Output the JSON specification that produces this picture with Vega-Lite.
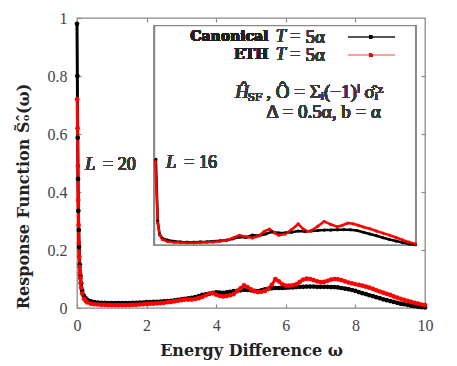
{
"$schema": "https://vega.github.io/schema/vega-lite/v6.json",
"autosize": "none",
"width": 348,
"height": 290,
"padding": {"left": 77, "top": 18, "right": 32, "bottom": 58},
"background": "white",
"config": {
  "view": {"stroke": "#8a8a8a", "strokeWidth": 1.3},
  "text": {"fontWeight": "normal"},
  "axis": {"domain": false, "grid": false, "labelFlush": false, "tickColor": "#8a8a8a", "tickSize": -4, "tickWidth": 1.2, "labelFont": "Liberation Serif", "labelFontWeight": "normal", "labelFontSize": 16, "labelColor": "#444", "titleFont": "DejaVu Serif", "titleFontWeight": "bold", "titleFontSize": 16, "titleColor": "#222"}
},
"datasets": {
"main": [
{"series":"Canonical","omega":0,"S":0.98},{"series":"Canonical","omega":0.01,"S":0.80},{"series":"Canonical","omega":0.02,"S":0.587},{"series":"Canonical","omega":0.03,"S":0.445},{"series":"Canonical","omega":0.04,"S":0.335},{"series":"Canonical","omega":0.05,"S":0.269},{"series":"Canonical","omega":0.06,"S":0.21},{"series":"Canonical","omega":0.08,"S":0.15},{"series":"Canonical","omega":0.1,"S":0.11},{"series":"Canonical","omega":0.12,"S":0.085},{"series":"Canonical","omega":0.15,"S":0.06},{"series":"Canonical","omega":0.2,"S":0.042},{"series":"Canonical","omega":0.25,"S":0.033},{"series":"Canonical","omega":0.3,"S":0.028},{"series":"Canonical","omega":0.4,"S":0.023},{"series":"Canonical","omega":0.5,"S":0.020},{"series":"Canonical","omega":0.6,"S":0.019},{"series":"Canonical","omega":0.7,"S":0.018},{"series":"Canonical","omega":0.8,"S":0.018},{"series":"Canonical","omega":0.9,"S":0.017},{"series":"Canonical","omega":1.0,"S":0.017},{"series":"Canonical","omega":1.1,"S":0.017},{"series":"Canonical","omega":1.2,"S":0.017},{"series":"Canonical","omega":1.3,"S":0.017},{"series":"Canonical","omega":1.4,"S":0.017},{"series":"Canonical","omega":1.5,"S":0.017},{"series":"Canonical","omega":1.6,"S":0.018},{"series":"Canonical","omega":1.7,"S":0.018},{"series":"Canonical","omega":1.8,"S":0.019},{"series":"Canonical","omega":1.9,"S":0.019},{"series":"Canonical","omega":2.0,"S":0.020},{"series":"Canonical","omega":2.1,"S":0.020},{"series":"Canonical","omega":2.2,"S":0.021},{"series":"Canonical","omega":2.3,"S":0.021},{"series":"Canonical","omega":2.4,"S":0.022},{"series":"Canonical","omega":2.5,"S":0.023},{"series":"Canonical","omega":2.6,"S":0.024},{"series":"Canonical","omega":2.7,"S":0.025},{"series":"Canonical","omega":2.8,"S":0.026},{"series":"Canonical","omega":2.9,"S":0.028},{"series":"Canonical","omega":3.0,"S":0.030},{"series":"Canonical","omega":3.1,"S":0.032},{"series":"Canonical","omega":3.2,"S":0.033},{"series":"Canonical","omega":3.3,"S":0.035},{"series":"Canonical","omega":3.4,"S":0.038},{"series":"Canonical","omega":3.5,"S":0.041},{"series":"Canonical","omega":3.6,"S":0.045},{"series":"Canonical","omega":3.7,"S":0.047},{"series":"Canonical","omega":3.8,"S":0.049},{"series":"Canonical","omega":3.9,"S":0.051},{"series":"Canonical","omega":4.0,"S":0.054},{"series":"Canonical","omega":4.1,"S":0.053},{"series":"Canonical","omega":4.2,"S":0.052},{"series":"Canonical","omega":4.3,"S":0.054},{"series":"Canonical","omega":4.4,"S":0.056},{"series":"Canonical","omega":4.5,"S":0.058},{"series":"Canonical","omega":4.6,"S":0.059},{"series":"Canonical","omega":4.7,"S":0.061},{"series":"Canonical","omega":4.8,"S":0.063},{"series":"Canonical","omega":4.9,"S":0.062},{"series":"Canonical","omega":5.0,"S":0.061},{"series":"Canonical","omega":5.1,"S":0.059},{"series":"Canonical","omega":5.2,"S":0.058},{"series":"Canonical","omega":5.3,"S":0.061},{"series":"Canonical","omega":5.4,"S":0.064},{"series":"Canonical","omega":5.5,"S":0.066},{"series":"Canonical","omega":5.6,"S":0.068},{"series":"Canonical","omega":5.7,"S":0.069},{"series":"Canonical","omega":5.8,"S":0.069},{"series":"Canonical","omega":5.9,"S":0.069},{"series":"Canonical","omega":6.0,"S":0.070},{"series":"Canonical","omega":6.1,"S":0.071},{"series":"Canonical","omega":6.2,"S":0.071},{"series":"Canonical","omega":6.3,"S":0.072},{"series":"Canonical","omega":6.4,"S":0.073},{"series":"Canonical","omega":6.5,"S":0.073},{"series":"Canonical","omega":6.6,"S":0.074},{"series":"Canonical","omega":6.7,"S":0.074},{"series":"Canonical","omega":6.8,"S":0.074},{"series":"Canonical","omega":6.9,"S":0.073},{"series":"Canonical","omega":7.0,"S":0.073},{"series":"Canonical","omega":7.1,"S":0.073},{"series":"Canonical","omega":7.2,"S":0.073},{"series":"Canonical","omega":7.3,"S":0.072},{"series":"Canonical","omega":7.4,"S":0.072},{"series":"Canonical","omega":7.5,"S":0.071},{"series":"Canonical","omega":7.6,"S":0.069},{"series":"Canonical","omega":7.7,"S":0.067},{"series":"Canonical","omega":7.8,"S":0.065},{"series":"Canonical","omega":7.9,"S":0.062},{"series":"Canonical","omega":8.0,"S":0.059},{"series":"Canonical","omega":8.1,"S":0.055},{"series":"Canonical","omega":8.2,"S":0.051},{"series":"Canonical","omega":8.3,"S":0.048},{"series":"Canonical","omega":8.4,"S":0.044},{"series":"Canonical","omega":8.5,"S":0.041},{"series":"Canonical","omega":8.6,"S":0.037},{"series":"Canonical","omega":8.7,"S":0.034},{"series":"Canonical","omega":8.8,"S":0.030},{"series":"Canonical","omega":8.9,"S":0.027},{"series":"Canonical","omega":9.0,"S":0.024},{"series":"Canonical","omega":9.1,"S":0.021},{"series":"Canonical","omega":9.2,"S":0.018},{"series":"Canonical","omega":9.3,"S":0.015},{"series":"Canonical","omega":9.4,"S":0.013},{"series":"Canonical","omega":9.5,"S":0.011},{"series":"Canonical","omega":9.6,"S":0.008},{"series":"Canonical","omega":9.7,"S":0.006},{"series":"Canonical","omega":9.8,"S":0.004},{"series":"Canonical","omega":9.9,"S":0.003},{"series":"Canonical","omega":10.0,"S":0.002},
{"series":"ETH","omega":0.005,"S":0.72},{"series":"ETH","omega":0.015,"S":0.62},{"series":"ETH","omega":0.025,"S":0.49},{"series":"ETH","omega":0.035,"S":0.372},{"series":"ETH","omega":0.045,"S":0.286},{"series":"ETH","omega":0.055,"S":0.224},{"series":"ETH","omega":0.065,"S":0.177},{"series":"ETH","omega":0.075,"S":0.142},{"series":"ETH","omega":0.085,"S":0.12},{"series":"ETH","omega":0.095,"S":0.103},{"series":"ETH","omega":0.105,"S":0.087},{"series":"ETH","omega":0.12,"S":0.07},{"series":"ETH","omega":0.15,"S":0.05},{"series":"ETH","omega":0.2,"S":0.032},{"series":"ETH","omega":0.25,"S":0.024},{"series":"ETH","omega":0.3,"S":0.019},{"series":"ETH","omega":0.4,"S":0.015},{"series":"ETH","omega":0.5,"S":0.013},{"series":"ETH","omega":0.6,"S":0.012},{"series":"ETH","omega":0.7,"S":0.011},{"series":"ETH","omega":0.8,"S":0.011},{"series":"ETH","omega":0.9,"S":0.010},{"series":"ETH","omega":1.0,"S":0.010},{"series":"ETH","omega":1.1,"S":0.010},{"series":"ETH","omega":1.2,"S":0.010},{"series":"ETH","omega":1.3,"S":0.010},{"series":"ETH","omega":1.4,"S":0.010},{"series":"ETH","omega":1.5,"S":0.010},{"series":"ETH","omega":1.6,"S":0.011},{"series":"ETH","omega":1.7,"S":0.011},{"series":"ETH","omega":1.8,"S":0.012},{"series":"ETH","omega":1.9,"S":0.013},{"series":"ETH","omega":2.0,"S":0.014},{"series":"ETH","omega":2.1,"S":0.015},{"series":"ETH","omega":2.2,"S":0.015},{"series":"ETH","omega":2.3,"S":0.016},{"series":"ETH","omega":2.4,"S":0.017},{"series":"ETH","omega":2.5,"S":0.018},{"series":"ETH","omega":2.6,"S":0.020},{"series":"ETH","omega":2.7,"S":0.021},{"series":"ETH","omega":2.8,"S":0.023},{"series":"ETH","omega":2.9,"S":0.025},{"series":"ETH","omega":3.0,"S":0.027},{"series":"ETH","omega":3.1,"S":0.029},{"series":"ETH","omega":3.2,"S":0.029},{"series":"ETH","omega":3.3,"S":0.029},{"series":"ETH","omega":3.4,"S":0.031},{"series":"ETH","omega":3.5,"S":0.034},{"series":"ETH","omega":3.6,"S":0.038},{"series":"ETH","omega":3.7,"S":0.044},{"series":"ETH","omega":3.8,"S":0.050},{"series":"ETH","omega":3.9,"S":0.052},{"series":"ETH","omega":4.0,"S":0.046},{"series":"ETH","omega":4.1,"S":0.042},{"series":"ETH","omega":4.2,"S":0.040},{"series":"ETH","omega":4.3,"S":0.041},{"series":"ETH","omega":4.4,"S":0.044},{"series":"ETH","omega":4.5,"S":0.048},{"series":"ETH","omega":4.6,"S":0.058},{"series":"ETH","omega":4.7,"S":0.068},{"series":"ETH","omega":4.8,"S":0.078},{"series":"ETH","omega":4.9,"S":0.072},{"series":"ETH","omega":5.0,"S":0.064},{"series":"ETH","omega":5.1,"S":0.058},{"series":"ETH","omega":5.2,"S":0.055},{"series":"ETH","omega":5.3,"S":0.056},{"series":"ETH","omega":5.4,"S":0.059},{"series":"ETH","omega":5.5,"S":0.066},{"series":"ETH","omega":5.6,"S":0.080},{"series":"ETH","omega":5.7,"S":0.100},{"series":"ETH","omega":5.8,"S":0.092},{"series":"ETH","omega":5.9,"S":0.082},{"series":"ETH","omega":6.0,"S":0.077},{"series":"ETH","omega":6.1,"S":0.077},{"series":"ETH","omega":6.2,"S":0.078},{"series":"ETH","omega":6.3,"S":0.082},{"series":"ETH","omega":6.4,"S":0.090},{"series":"ETH","omega":6.5,"S":0.098},{"series":"ETH","omega":6.6,"S":0.101},{"series":"ETH","omega":6.7,"S":0.100},{"series":"ETH","omega":6.8,"S":0.096},{"series":"ETH","omega":6.9,"S":0.092},{"series":"ETH","omega":7.0,"S":0.089},{"series":"ETH","omega":7.1,"S":0.090},{"series":"ETH","omega":7.2,"S":0.094},{"series":"ETH","omega":7.3,"S":0.098},{"series":"ETH","omega":7.4,"S":0.100},{"series":"ETH","omega":7.5,"S":0.099},{"series":"ETH","omega":7.6,"S":0.096},{"series":"ETH","omega":7.7,"S":0.092},{"series":"ETH","omega":7.8,"S":0.088},{"series":"ETH","omega":7.9,"S":0.085},{"series":"ETH","omega":8.0,"S":0.082},{"series":"ETH","omega":8.1,"S":0.080},{"series":"ETH","omega":8.2,"S":0.077},{"series":"ETH","omega":8.3,"S":0.074},{"series":"ETH","omega":8.4,"S":0.070},{"series":"ETH","omega":8.5,"S":0.066},{"series":"ETH","omega":8.6,"S":0.061},{"series":"ETH","omega":8.7,"S":0.057},{"series":"ETH","omega":8.8,"S":0.053},{"series":"ETH","omega":8.9,"S":0.049},{"series":"ETH","omega":9.0,"S":0.045},{"series":"ETH","omega":9.1,"S":0.040},{"series":"ETH","omega":9.2,"S":0.036},{"series":"ETH","omega":9.3,"S":0.032},{"series":"ETH","omega":9.4,"S":0.028},{"series":"ETH","omega":9.5,"S":0.025},{"series":"ETH","omega":9.6,"S":0.021},{"series":"ETH","omega":9.7,"S":0.018},{"series":"ETH","omega":9.8,"S":0.015},{"series":"ETH","omega":9.9,"S":0.012},{"series":"ETH","omega":10.0,"S":0.010}
],
"inset": [
{"series":"Canonical","omega":0.05,"S":0.39},{"series":"Canonical","omega":0.12,"S":0.11},{"series":"Canonical","omega":0.19,"S":0.05},{"series":"Canonical","omega":0.3,"S":0.03},{"series":"Canonical","omega":0.5,"S":0.022},{"series":"Canonical","omega":0.75,"S":0.017},{"series":"Canonical","omega":1.0,"S":0.014},{"series":"Canonical","omega":1.25,"S":0.013},{"series":"Canonical","omega":1.5,"S":0.013},{"series":"Canonical","omega":1.75,"S":0.014},{"series":"Canonical","omega":2.0,"S":0.015},{"series":"Canonical","omega":2.25,"S":0.017},{"series":"Canonical","omega":2.5,"S":0.019},{"series":"Canonical","omega":2.75,"S":0.022},{"series":"Canonical","omega":3.0,"S":0.028},{"series":"Canonical","omega":3.25,"S":0.036},{"series":"Canonical","omega":3.5,"S":0.034},{"series":"Canonical","omega":3.75,"S":0.045},{"series":"Canonical","omega":4.0,"S":0.042},{"series":"Canonical","omega":4.25,"S":0.05},{"series":"Canonical","omega":4.5,"S":0.06},{"series":"Canonical","omega":4.75,"S":0.055},{"series":"Canonical","omega":5.0,"S":0.056},{"series":"Canonical","omega":5.25,"S":0.058},{"series":"Canonical","omega":5.5,"S":0.064},{"series":"Canonical","omega":5.75,"S":0.062},{"series":"Canonical","omega":6.0,"S":0.064},{"series":"Canonical","omega":6.25,"S":0.066},{"series":"Canonical","omega":6.5,"S":0.068},{"series":"Canonical","omega":6.75,"S":0.068},{"series":"Canonical","omega":7.0,"S":0.069},{"series":"Canonical","omega":7.25,"S":0.07},{"series":"Canonical","omega":7.5,"S":0.069},{"series":"Canonical","omega":7.75,"S":0.066},{"series":"Canonical","omega":8.0,"S":0.058},{"series":"Canonical","omega":8.25,"S":0.05},{"series":"Canonical","omega":8.5,"S":0.042},{"series":"Canonical","omega":8.75,"S":0.033},{"series":"Canonical","omega":9.0,"S":0.025},{"series":"Canonical","omega":9.25,"S":0.018},{"series":"Canonical","omega":9.5,"S":0.011},{"series":"Canonical","omega":9.75,"S":0.005},{"series":"Canonical","omega":10.0,"S":0.001},
{"series":"ETH","omega":0.03,"S":0.38},{"series":"ETH","omega":0.12,"S":0.10},{"series":"ETH","omega":0.19,"S":0.046},{"series":"ETH","omega":0.3,"S":0.025},{"series":"ETH","omega":0.5,"S":0.016},{"series":"ETH","omega":0.75,"S":0.012},{"series":"ETH","omega":1.0,"S":0.011},{"series":"ETH","omega":1.25,"S":0.010},{"series":"ETH","omega":1.5,"S":0.010},{"series":"ETH","omega":1.75,"S":0.011},{"series":"ETH","omega":2.0,"S":0.012},{"series":"ETH","omega":2.25,"S":0.014},{"series":"ETH","omega":2.5,"S":0.017},{"series":"ETH","omega":2.75,"S":0.021},{"series":"ETH","omega":3.0,"S":0.032},{"series":"ETH","omega":3.25,"S":0.044},{"series":"ETH","omega":3.5,"S":0.038},{"series":"ETH","omega":3.75,"S":0.032},{"series":"ETH","omega":4.0,"S":0.042},{"series":"ETH","omega":4.2,"S":0.062},{"series":"ETH","omega":4.4,"S":0.072},{"series":"ETH","omega":4.6,"S":0.055},{"series":"ETH","omega":4.75,"S":0.045},{"series":"ETH","omega":5.0,"S":0.05},{"series":"ETH","omega":5.25,"S":0.07},{"series":"ETH","omega":5.5,"S":0.096},{"series":"ETH","omega":5.7,"S":0.072},{"series":"ETH","omega":5.85,"S":0.062},{"series":"ETH","omega":6.0,"S":0.065},{"series":"ETH","omega":6.25,"S":0.085},{"series":"ETH","omega":6.5,"S":0.107},{"series":"ETH","omega":6.75,"S":0.094},{"series":"ETH","omega":7.0,"S":0.083},{"series":"ETH","omega":7.2,"S":0.09},{"series":"ETH","omega":7.4,"S":0.100},{"series":"ETH","omega":7.6,"S":0.097},{"series":"ETH","omega":7.8,"S":0.090},{"series":"ETH","omega":8.0,"S":0.082},{"series":"ETH","omega":8.25,"S":0.074},{"series":"ETH","omega":8.5,"S":0.064},{"series":"ETH","omega":8.75,"S":0.054},{"series":"ETH","omega":9.0,"S":0.045},{"series":"ETH","omega":9.25,"S":0.034},{"series":"ETH","omega":9.5,"S":0.023},{"series":"ETH","omega":9.75,"S":0.013},{"series":"ETH","omega":10.0,"S":0.005}
]
},
"layer": [
{
  "data": {"name": "main"},
  "layer": [
    {"mark": {"type": "line", "strokeWidth": 3},
     "encoding": {
       "x": {"field": "omega", "type": "quantitative", "scale": {"domain": [0, 10], "nice": false},
             "axis": {"orient": "bottom", "values": [0, 2, 4, 6, 8, 10], "format": "~r", "labelPadding": 13, "title": "Energy Difference ω", "titleY": 42, "titleBaseline": "middle"}},
       "y": {"field": "S", "type": "quantitative", "scale": {"domain": [0, 1], "nice": false},
             "axis": {"orient": "left", "values": [0, 0.2, 0.4, 0.6, 0.8, 1], "format": "~r", "labelPadding": 14, "title": "Response Function S̃ₒ̂(ω)", "titleAngle": 270, "titleX": -54, "titleY": 178, "titleAlign": "center", "titleBaseline": "middle"}},
       "color": {"field": "series", "type": "nominal", "scale": {"domain": ["Canonical", "ETH"], "range": ["#000000", "#ff0000"]}, "legend": null}
     }},
    {"mark": {"type": "point", "filled": true, "size": 22, "opacity": 1},
     "encoding": {
       "x": {"field": "omega", "type": "quantitative", "scale": {"domain": [0, 10], "nice": false},
             "axis": {"orient": "top", "values": [2, 4, 6, 8], "labels": false, "title": null}},
       "y": {"field": "S", "type": "quantitative", "scale": {"domain": [0, 1], "nice": false},
             "axis": {"orient": "right", "values": [0.2, 0.4, 0.6, 0.8], "labels": false, "title": null}},
       "color": {"field": "series", "type": "nominal", "legend": null}
     }},
    {"mark": {"type": "text", "text": "L", "font": "Liberation Serif", "fontStyle": "italic", "fontWeight": "normal", "fontSize": 18, "align": "left", "baseline": "middle", "color": "#3a3a3a"},
     "encoding": {"x": {"datum": 0.24, "type": "quantitative", "scale": {"domain": [0, 10], "nice": false}, "axis": null}, "y": {"datum": 0.493, "type": "quantitative", "scale": {"domain": [0, 1], "nice": false}, "axis": null}}},
    {"mark": {"type": "text", "text": "= 20", "font": "Liberation Serif", "fontWeight": "normal", "fontSize": 18, "align": "left", "baseline": "middle", "color": "#3a3a3a"},
     "encoding": {"x": {"datum": 0.75, "type": "quantitative", "scale": {"domain": [0, 10], "nice": false}, "axis": null}, "y": {"datum": 0.493, "type": "quantitative", "scale": {"domain": [0, 1], "nice": false}, "axis": null}}}
  ],
  "resolve": {"axis": {"x": "independent", "y": "independent"}}
},
{
  "data": {"name": "inset"},
  "layer": [
    {"mark": {"type": "rect", "fill": "white", "stroke": "#8a8a8a", "strokeWidth": 1.3},
     "encoding": {"x": {"datum": 0, "type": "quantitative", "scale": {"domain": [0, 10], "nice": false}, "axis": null}, "x2": {"datum": 10},
                  "y": {"datum": 0, "type": "quantitative", "scale": {"domain": [0, 1], "nice": false}, "axis": null}, "y2": {"datum": 1}}},
    {"mark": {"type": "line", "strokeWidth": 2.5},
     "encoding": {
       "x": {"field": "omega", "type": "quantitative", "scale": {"domain": [0, 10], "nice": false, "range": [77.6, 338.6]},
             "axis": {"orient": "bottom", "offset": -63, "values": [2, 4, 6, 8], "labels": false, "title": null}},
       "y": {"field": "S", "type": "quantitative", "scale": {"domain": [0, 1], "nice": false, "range": [227, 7.6]},
             "axis": {"orient": "left", "offset": -77.6, "values": [0.2, 0.4, 0.6, 0.8], "labels": false, "title": null}},
       "color": {"field": "series", "type": "nominal", "legend": null}
     }},
    {"mark": {"type": "point", "filled": true, "size": 10, "opacity": 1},
     "encoding": {
       "x": {"field": "omega", "type": "quantitative", "scale": {"domain": [0, 10], "nice": false}, "axis": null},
       "y": {"field": "S", "type": "quantitative", "scale": {"domain": [0, 1], "nice": false},
             "axis": {"orient": "right", "offset": -9.4, "values": [0.2, 0.4, 0.6, 0.8], "labels": false, "title": null}},
       "color": {"field": "series", "type": "nominal", "legend": null}
     }},
    {"mark": {"type": "text", "text": "L", "font": "Liberation Serif", "fontStyle": "italic", "fontWeight": "normal", "fontSize": 18, "align": "left", "baseline": "middle", "color": "#3a3a3a"},
     "encoding": {"x": {"datum": 0.45, "type": "quantitative", "axis": null}, "y": {"datum": 0.374, "type": "quantitative", "axis": null}}},
    {"mark": {"type": "text", "text": "= 16", "font": "Liberation Serif", "fontWeight": "normal", "fontSize": 18, "align": "left", "baseline": "middle", "color": "#3a3a3a"},
     "encoding": {"x": {"datum": 1.14, "type": "quantitative", "axis": null}, "y": {"datum": 0.374, "type": "quantitative", "axis": null}}},
    {"mark": {"type": "text", "text": "Canonical", "font": "DejaVu Serif", "fontWeight": "bold", "fontSize": 14, "align": "right", "baseline": "middle", "color": "#222"},
     "encoding": {"x": {"datum": 4.36, "type": "quantitative", "axis": null}, "y": {"datum": 0.948, "type": "quantitative", "axis": null}}},
    {"mark": {"type": "text", "text": "ETH", "font": "DejaVu Serif", "fontWeight": "bold", "fontSize": 14, "align": "right", "baseline": "middle", "color": "#222"},
     "encoding": {"x": {"datum": 4.36, "type": "quantitative", "axis": null}, "y": {"datum": 0.865, "type": "quantitative", "axis": null}}},
    {"mark": {"type": "text", "text": "T", "font": "Liberation Serif", "fontStyle": "italic", "fontWeight": "normal", "fontSize": 18, "align": "left", "baseline": "middle", "color": "#3a3a3a"},
     "encoding": {"x": {"datum": 4.64, "type": "quantitative", "axis": null}, "y": {"datum": 0.948, "type": "quantitative", "axis": null}}},
    {"mark": {"type": "text", "text": "T", "font": "Liberation Serif", "fontStyle": "italic", "fontWeight": "normal", "fontSize": 18, "align": "left", "baseline": "middle", "color": "#3a3a3a"},
     "encoding": {"x": {"datum": 4.64, "type": "quantitative", "axis": null}, "y": {"datum": 0.865, "type": "quantitative", "axis": null}}},
    {"mark": {"type": "text", "text": "=", "font": "Liberation Serif", "fontWeight": "normal", "fontSize": 18, "align": "left", "baseline": "middle", "color": "#3a3a3a"},
     "encoding": {"x": {"datum": 5.2, "type": "quantitative", "axis": null}, "y": {"datum": 0.948, "type": "quantitative", "axis": null}}},
    {"mark": {"type": "text", "text": "=", "font": "Liberation Serif", "fontWeight": "normal", "fontSize": 18, "align": "left", "baseline": "middle", "color": "#3a3a3a"},
     "encoding": {"x": {"datum": 5.2, "type": "quantitative", "axis": null}, "y": {"datum": 0.865, "type": "quantitative", "axis": null}}},
    {"mark": {"type": "text", "text": "5α", "font": "Liberation Serif", "fontWeight": "normal", "fontSize": 19, "align": "left", "baseline": "middle", "color": "#3a3a3a"},
     "encoding": {"x": {"datum": 5.78, "type": "quantitative", "axis": null}, "y": {"datum": 0.948, "type": "quantitative", "axis": null}}},
    {"mark": {"type": "text", "text": "5α", "font": "Liberation Serif", "fontWeight": "normal", "fontSize": 19, "align": "left", "baseline": "middle", "color": "#3a3a3a"},
     "encoding": {"x": {"datum": 5.78, "type": "quantitative", "axis": null}, "y": {"datum": 0.865, "type": "quantitative", "axis": null}}},
    {"mark": {"type": "rule", "color": "#555555", "strokeWidth": 1},
     "encoding": {"x": {"datum": 7.42, "type": "quantitative", "axis": null}, "x2": {"datum": 9.21}, "y": {"datum": 0.948, "type": "quantitative", "axis": null}}},
    {"mark": {"type": "rule", "color": "#ffa0a0", "strokeWidth": 1.5},
     "encoding": {"x": {"datum": 7.42, "type": "quantitative", "axis": null}, "x2": {"datum": 9.21}, "y": {"datum": 0.865, "type": "quantitative", "axis": null}}},
    {"mark": {"type": "point", "filled": true, "size": 12, "opacity": 1, "color": "#000000"},
     "encoding": {"x": {"datum": 8.28, "type": "quantitative", "axis": null}, "y": {"datum": 0.948, "type": "quantitative", "axis": null}}},
    {"mark": {"type": "point", "filled": true, "size": 12, "opacity": 1, "color": "#ff0000"},
     "encoding": {"x": {"datum": 8.28, "type": "quantitative", "axis": null}, "y": {"datum": 0.865, "type": "quantitative", "axis": null}}},
    {"mark": {"type": "text", "text": "Ĥ", "font": "Liberation Serif", "fontStyle": "italic", "fontWeight": "normal", "fontSize": 19, "align": "left", "baseline": "middle", "color": "#3a3a3a"},
     "encoding": {"x": {"datum": 3.09, "type": "quantitative", "axis": null}, "y": {"datum": 0.697, "type": "quantitative", "axis": null}}},
    {"mark": {"type": "text", "text": "SF", "font": "Liberation Serif", "fontWeight": "normal", "fontSize": 13, "align": "left", "baseline": "middle", "color": "#3a3a3a"},
     "encoding": {"x": {"datum": 3.57, "type": "quantitative", "axis": null}, "y": {"datum": 0.673, "type": "quantitative", "axis": null}}},
    {"mark": {"type": "text", "text": ", Ô = Σᵢ(−1)ⁱ σ̂ᵢᶻ", "font": "Liberation Serif", "fontWeight": "normal", "fontSize": 19, "align": "left", "baseline": "middle", "color": "#3a3a3a"},
     "encoding": {"x": {"datum": 4.28, "type": "quantitative", "axis": null}, "y": {"datum": 0.697, "type": "quantitative", "axis": null}}},
    {"mark": {"type": "text", "text": "Δ = 0.5α, b = α", "font": "Liberation Serif", "fontWeight": "normal", "fontSize": 19, "align": "center", "baseline": "middle", "color": "#3a3a3a"},
     "encoding": {"x": {"datum": 6.48, "type": "quantitative", "axis": null}, "y": {"datum": 0.605, "type": "quantitative", "axis": null}}}
  ],
  "resolve": {"axis": {"x": "independent", "y": "independent"}}
}
],
"resolve": {"scale": {"x": "independent", "y": "independent"}}
}
